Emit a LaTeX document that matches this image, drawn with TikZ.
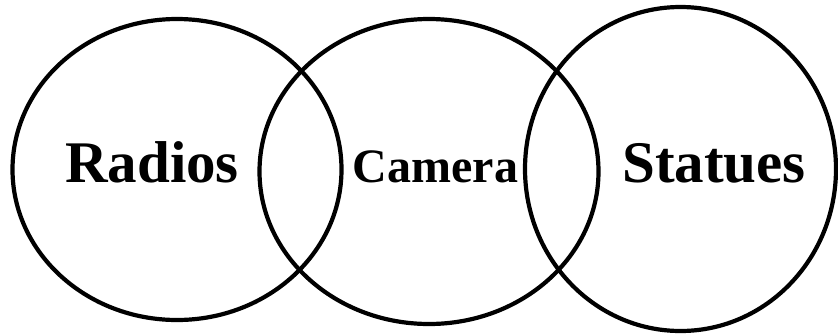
\documentclass[tikz,border=0pt]{standalone}
\usepackage{fontspec}
\setmainfont{Liberation Serif}
\usetikzlibrary{shapes.geometric}
\begin{document}
\begin{tikzpicture}[x=1pt,y=-1pt,
  ring/.style={ellipse,draw=black,line width=4.2pt,inner sep=0pt},
  bigtxt/.style={font=\fontsize{59}{59}\selectfont\bfseries,anchor=base,inner sep=0pt},
  midtxt/.style={font=\fontsize{48}{48}\selectfont\bfseries,anchor=base,inner sep=0pt}]
\useasboundingbox (0,0) rectangle (838,335);
\node[ring,minimum width=329pt,minimum height=301pt] (c1) at (177,169.5) {};
\node[ring,minimum width=339pt,minimum height=305pt] (c2) at (429,171.5) {};
\node[ring,minimum width=311pt,minimum height=324pt] (c3) at (680.5,169) {};
\node[bigtxt] (t1) at (152,182) {Radios};
\node[midtxt] (t2) at (435.5,182) {Camera};
\node[bigtxt] (t3) at (714,182) {Statues};
\end{tikzpicture}
\end{document}
